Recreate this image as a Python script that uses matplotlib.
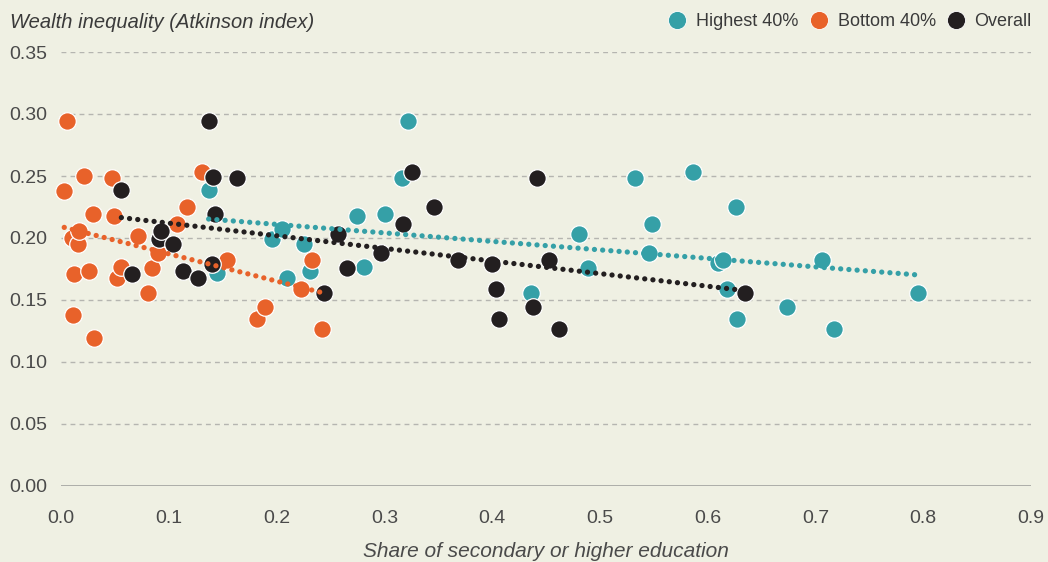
import numpy as np
import matplotlib
matplotlib.use("Agg")
import matplotlib.pyplot as plt
from matplotlib.lines import Line2D

# data
high_x = [0.137, 0.143, 0.145, 0.196, 0.205, 0.210, 0.225, 0.231, 0.275, 0.281, 0.301, 0.316,
          0.322, 0.436, 0.481, 0.489, 0.533, 0.546, 0.548, 0.586, 0.610, 0.614, 0.618, 0.626,
          0.627, 0.674, 0.706, 0.717, 0.795]
high_y = [0.239, 0.219, 0.172, 0.199, 0.207, 0.168, 0.195, 0.173, 0.218, 0.177, 0.219, 0.248,
          0.294, 0.156, 0.203, 0.176, 0.248, 0.188, 0.211, 0.253, 0.180, 0.182, 0.159, 0.225,
          0.135, 0.144, 0.182, 0.127, 0.156]

bottom_x = [0.003, 0.006, 0.010, 0.011, 0.012, 0.016, 0.017, 0.021, 0.026, 0.030, 0.031, 0.047,
            0.049, 0.052, 0.056, 0.071, 0.081, 0.084, 0.090, 0.108, 0.117, 0.131, 0.154, 0.182,
            0.189, 0.223, 0.233, 0.242]
bottom_y = [0.238, 0.294, 0.200, 0.138, 0.171, 0.195, 0.206, 0.250, 0.173, 0.219, 0.119, 0.248,
            0.218, 0.168, 0.177, 0.202, 0.156, 0.176, 0.188, 0.211, 0.225, 0.253, 0.182, 0.135,
            0.144, 0.159, 0.182, 0.127]

overall_x = [0.056, 0.066, 0.091, 0.093, 0.104, 0.113, 0.127, 0.137, 0.140, 0.141, 0.143, 0.163,
             0.244, 0.257, 0.265, 0.297, 0.317, 0.326, 0.346, 0.368, 0.400, 0.404, 0.406, 0.438,
             0.442, 0.453, 0.462, 0.635]
overall_y = [0.239, 0.171, 0.199, 0.206, 0.195, 0.173, 0.168, 0.294, 0.179, 0.249, 0.219, 0.248,
             0.156, 0.203, 0.176, 0.188, 0.211, 0.253, 0.225, 0.182, 0.179, 0.159, 0.135, 0.144,
             0.248, 0.182, 0.127, 0.156]

series = [("Highest 40%", high_x, high_y, "#35A0A7"),
          ("Bottom 40%", bottom_x, bottom_y, "#E8622A"),
          ("Overall", overall_x, overall_y, "#231F20")]

bg = "#EFF0E3"
plt.rcParams["font.family"] = ["Liberation Sans", "DejaVu Sans"]

fig = plt.figure(figsize=(10.48, 5.62), dpi=100, facecolor=bg)
ax = fig.add_axes([61/1048, 1-486/562, 970/1048, 434/562], facecolor=bg)

ax.set_xlim(0, 0.9)
ax.set_ylim(0, 0.35)
ax.set_xticks(np.arange(0, 0.91, 0.1))
ax.set_yticks(np.arange(0, 0.351, 0.05))
ax.xaxis.set_major_formatter(plt.FormatStrFormatter("%.1f"))
ax.yaxis.set_major_formatter(plt.FormatStrFormatter("%.2f"))
ax.tick_params(length=0, labelsize=14, labelcolor="#4a4a4a")
ax.tick_params(axis="x", pad=17)
ax.tick_params(axis="y", pad=10)
for s in ax.spines.values():
    s.set_visible(False)

for yv in np.arange(0.05, 0.351, 0.05):
    ax.axhline(yv, color="#b5b5b0", lw=1, ls=(0, (3.5, 3)), zorder=0)
ax.axhline(0, color="#a8a8a4", lw=1.3, zorder=0)

# points, then dotted trend lines on top
for name, xs, ys, col in series:
    ax.scatter(xs, ys, s=160, color=col, edgecolor="white", linewidth=0.9, zorder=3, clip_on=False)

for name, xs, ys, col in series:
    k, b = np.polyfit(xs, ys, 1)
    xx = np.array([min(xs), max(xs)])
    ax.plot(xx, k*xx + b, color=col, lw=3.8, ls=(0, (0.01, 1.55)),
            dash_capstyle="round", zorder=4)

ax.set_xlabel("Share of secondary or higher education", fontsize=15, style="italic",
              color="#4a4a4a", labelpad=11)
fig.text(10/1048, 1-22/562, "Wealth inequality (Atkinson index)", fontsize=14.5, style="italic",
         color="#3a3a3a", va="center", ha="left")

handles = [Line2D([], [], marker="o", ls="none", markersize=13, color=c,
                  markeredgecolor="white", markeredgewidth=0.6) for _, _, _, c in series]
fig.legend(handles, [n for n, _, _, _ in series], loc="center right",
           bbox_to_anchor=(1039/1048, 1-22/562), ncol=3, frameon=False, fontsize=13,
           handletextpad=0.05, columnspacing=0.1, labelcolor="#3a3a3a", borderaxespad=0)

fig.savefig("out.png", dpi=100, facecolor=bg)
